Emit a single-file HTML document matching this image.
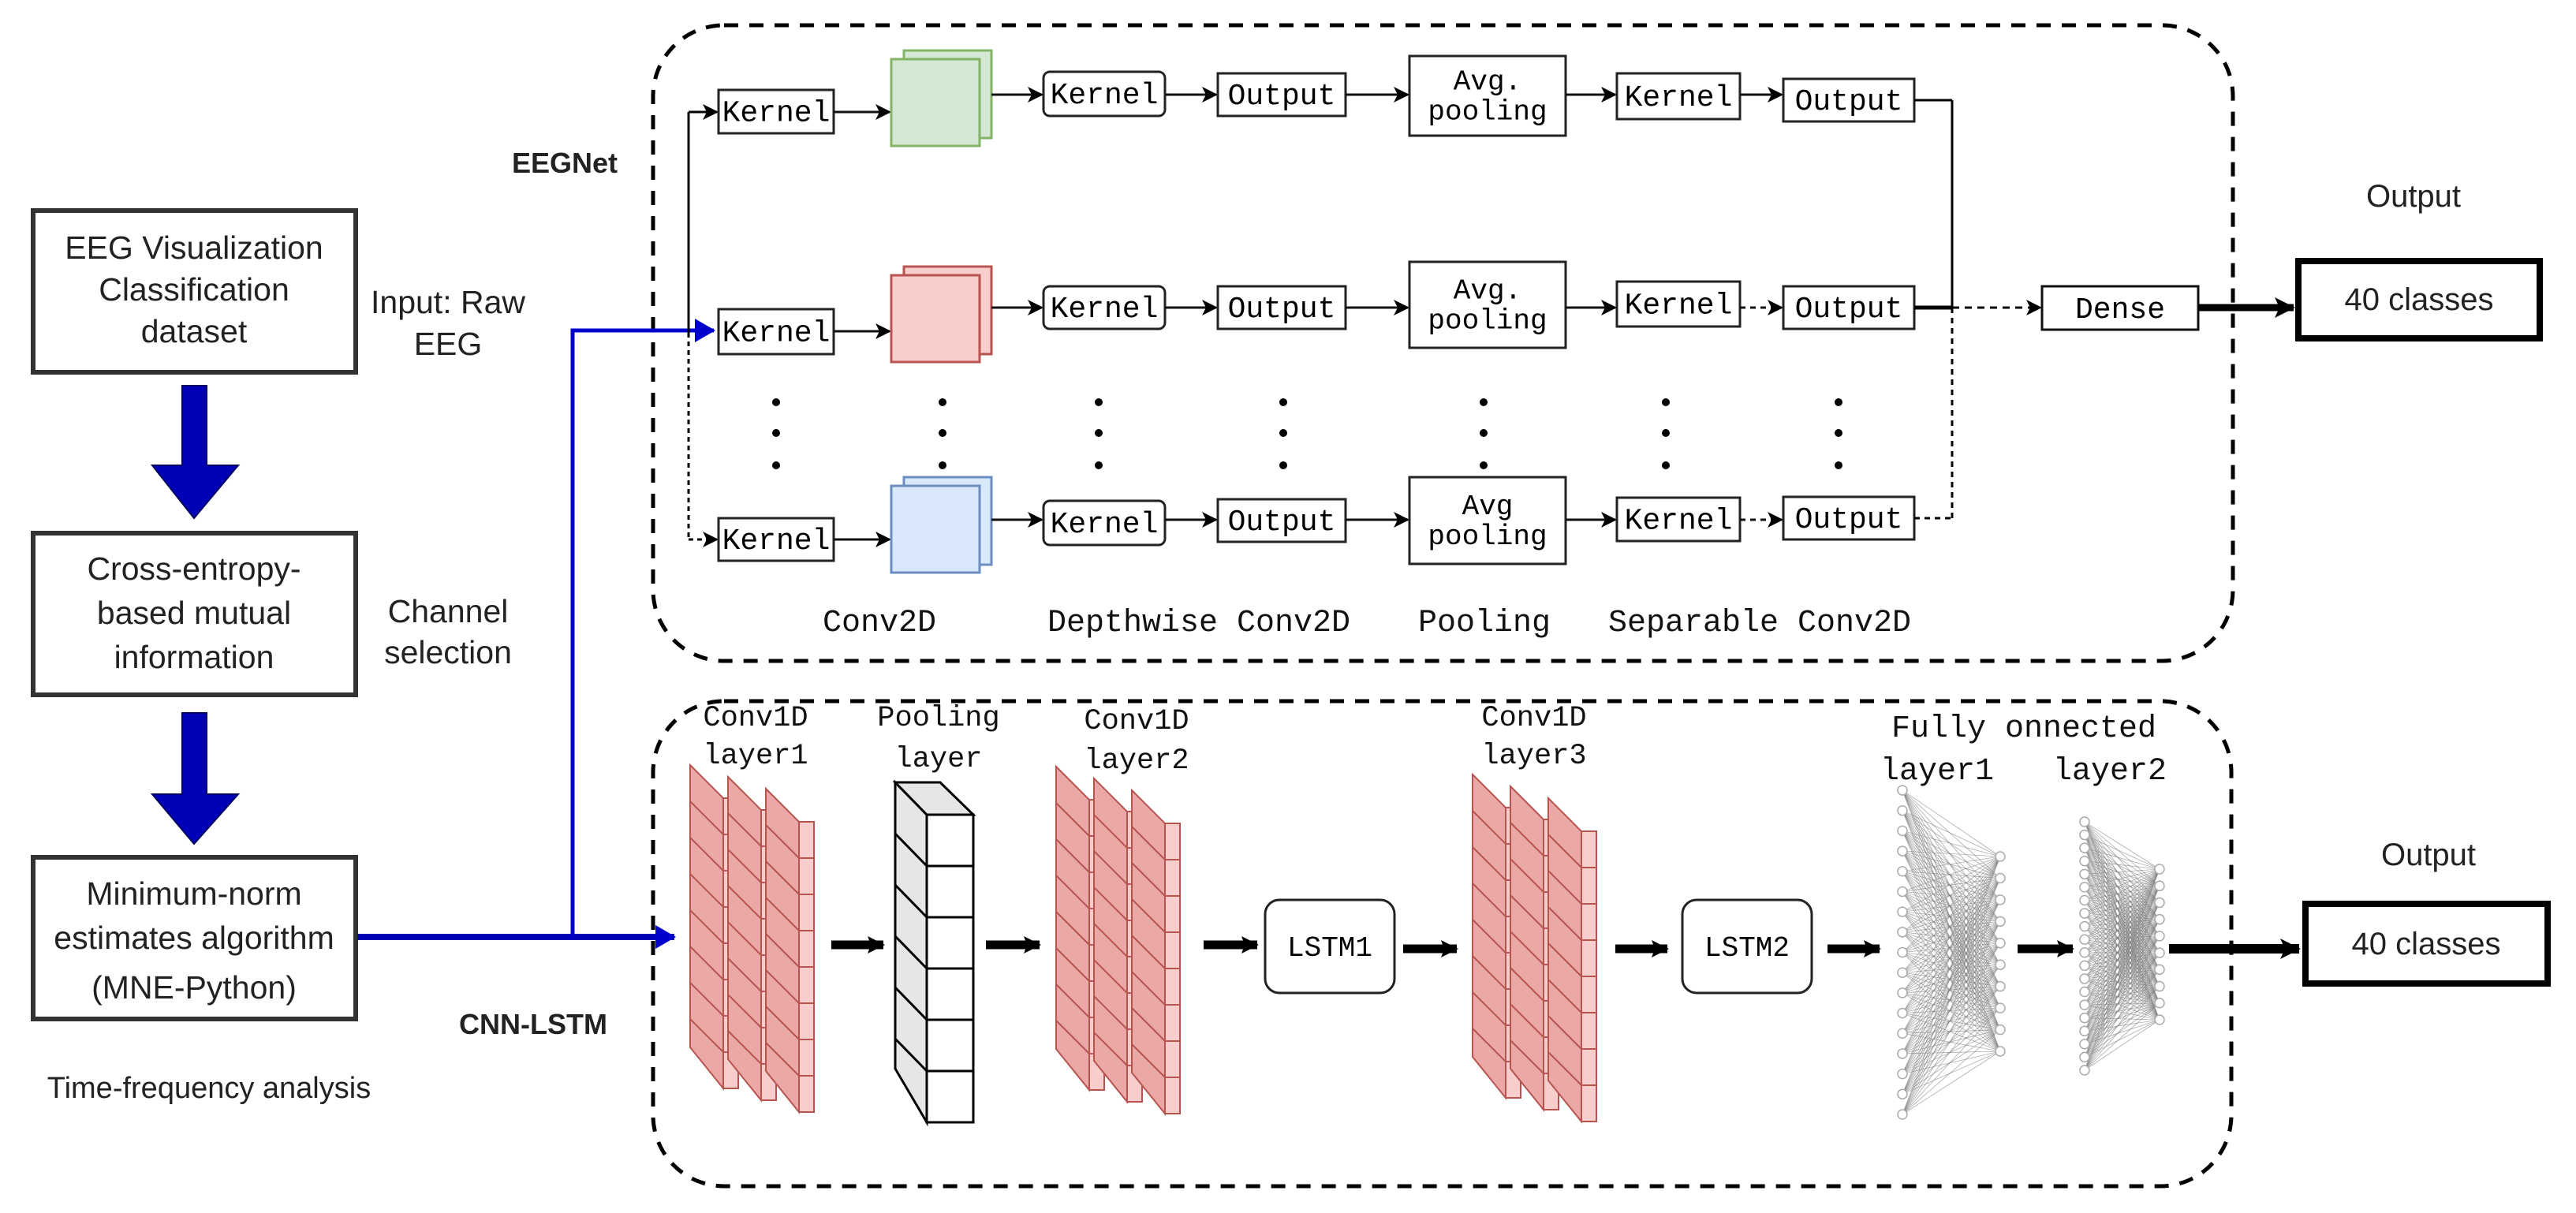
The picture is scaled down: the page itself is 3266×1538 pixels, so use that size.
<!DOCTYPE html>
<html><head><meta charset="utf-8"><style>
html,body{margin:0;padding:0;background:#fff;}
svg{display:block;}
.s{font-family:"Liberation Sans",Arial,sans-serif;}
.m{font-family:"Courier New","Liberation Mono",monospace;}
</style></head><body>
<svg id="g" width="3266" height="1538" viewBox="0 0 3266 1538" xmlns="http://www.w3.org/2000/svg">
<defs>
<marker id="ah" markerWidth="20" markerHeight="20" refX="18" refY="10" orient="auto" markerUnits="userSpaceOnUse"><path d="M0,0 L20,10 L0,20 L5,10 Z" fill="#000"/></marker>
<marker id="ahb" markerWidth="26" markerHeight="26" refX="24" refY="13" orient="auto" markerUnits="userSpaceOnUse"><path d="M0,0 L26,13 L0,26 L6,13 Z" fill="#000"/></marker>
<marker id="ahs" markerWidth="22" markerHeight="22" refX="20" refY="11" orient="auto" markerUnits="userSpaceOnUse"><path d="M0,0 L22,11 L0,22 L4,11 Z" fill="#000"/></marker>
<marker id="blue" markerWidth="26" markerHeight="30" refX="24" refY="15" orient="auto" markerUnits="userSpaceOnUse"><path d="M0,0 L26,15 L0,30 Z" fill="#0000cc"/></marker>
</defs>

<rect x="828" y="32" width="2003" height="806" rx="90" ry="90" fill="none" stroke="#000" stroke-width="5" stroke-dasharray="18,14"/>
<rect x="828" y="889" width="2001" height="615" rx="90" ry="90" fill="none" stroke="#000" stroke-width="5" stroke-dasharray="18,14"/>

<g class="s" font-size="41" text-anchor="middle" fill="#222">
<rect x="42" y="267" width="409" height="205" fill="#fff" stroke="#333" stroke-width="6"/>
<text x="246" y="328">EEG Visualization</text><text x="246" y="381">Classification</text><text x="246" y="434">dataset</text>
<rect x="42" y="676" width="409" height="205" fill="#fff" stroke="#333" stroke-width="6"/>
<text x="246" y="735">Cross-entropy-</text><text x="246" y="791">based mutual</text><text x="246" y="847">information</text>
<rect x="42" y="1087" width="409" height="205" fill="#fff" stroke="#333" stroke-width="6"/>
<text x="246" y="1147">Minimum-norm</text><text x="246" y="1203">estimates algorithm</text><text x="246" y="1266">(MNE-Python)</text>
<text x="568" y="397">Input: Raw</text><text x="568" y="450">EEG</text>
<text x="568" y="789">Channel</text><text x="568" y="841">selection</text>
<text x="265" y="1392" font-size="38">Time-frequency analysis</text>
<text x="716" y="219" font-weight="bold" font-size="36">EEGNet</text>
<text x="676" y="1311" font-weight="bold" font-size="36">CNN-LSTM</text>
</g>
<path d="M231,489 H262 V590 H302 L246,657 L193,590 H231 Z" fill="#0000b8" stroke="#000060" stroke-width="2"/>
<path d="M231,904 H262 V1007 H302 L246,1070 L193,1007 H231 Z" fill="#0000b8" stroke="#000060" stroke-width="2"/>

<line x1="453" y1="1188" x2="855" y2="1188" stroke="#0000b8" stroke-width="8" marker-end="url(#blue)"/>
<polyline points="726,1188 726,419 905,419" fill="none" stroke="#0000cc" stroke-width="5" marker-end="url(#blue)"/>

<g stroke="#000" stroke-width="3" fill="none">
<line x1="873" y1="142" x2="873" y2="422"/>
<line x1="873" y1="422" x2="873" y2="684" stroke-dasharray="6,5"/>
<line x1="873" y1="142" x2="909" y2="142" marker-end="url(#ah)"/>
<line x1="873" y1="684" x2="909" y2="684" stroke-dasharray="6,5" marker-end="url(#ah)"/>
</g>
<g id="eeg"></g>
<g class="m" font-size="40" text-anchor="middle" fill="#111">
<text x="1115" y="800">Conv2D</text>
<text x="1520" y="800">Depthwise Conv2D</text>
<text x="1882" y="800">Pooling</text>
<text x="2231" y="800">Separable Conv2D</text>
</g>
<g stroke="#000" stroke-width="3" fill="none">
<line x1="2475" y1="127" x2="2475" y2="390"/>
<line x1="2475" y1="390" x2="2475" y2="657" stroke-dasharray="7,6"/>
<line x1="2427" y1="657" x2="2475" y2="657" stroke-dasharray="7,6"/>
<line x1="2427" y1="127" x2="2475" y2="127"/>
<line x1="2427" y1="390" x2="2475" y2="390" stroke-width="5"/>
<line x1="2475" y1="390" x2="2587" y2="390" stroke-dasharray="9,7" marker-end="url(#ah)"/>
</g>
<rect x="2589" y="363" width="198" height="55" fill="#fff" stroke="#111" stroke-width="3"/>
<text class="m" x="2688" y="403" font-size="38" text-anchor="middle">Dense</text>
<line x1="2787" y1="390" x2="2908" y2="390" stroke="#000" stroke-width="9" marker-end="url(#ahb)"/>
<rect x="2914" y="331" width="306" height="98" fill="#fff" stroke="#000" stroke-width="8"/>
<g class="s" font-size="40" text-anchor="middle" fill="#222">
<text x="3067" y="393">40 classes</text>
<text x="3060" y="262">Output</text>
<text x="3079" y="1097">Output</text>
</g>

<g class="m" font-size="37" text-anchor="middle" fill="#111">
<text x="958" y="920">Conv1D</text><text x="958" y="968">layer1</text>
<text x="1190" y="920">Pooling</text><text x="1190" y="972">layer</text>
<text x="1441" y="924">Conv1D</text><text x="1441" y="974">layer2</text>
<text x="1945" y="920">Conv1D</text><text x="1945" y="968">layer3</text>
<text x="2566" y="934" font-size="40">Fully onnected</text>
<text x="2456" y="988" font-size="40">layer1</text>
<text x="2675" y="988" font-size="40">layer2</text>
</g>
<g id="cnn"></g>
<g stroke="#000" stroke-width="3">
<polygon points="1135,992 1175,1033 1175,1423 1135,1355" fill="#e6e6e6"/>
<polygon points="1135,992 1192,992 1234,1033 1175,1033" fill="#e6e6e6"/>
<rect x="1175" y="1033" width="59" height="390" fill="#fff"/>
<line x1="1175" y1="1098" x2="1234" y2="1098"/><line x1="1175" y1="1163" x2="1234" y2="1163"/>
<line x1="1175" y1="1228" x2="1234" y2="1228"/><line x1="1175" y1="1293" x2="1234" y2="1293"/>
<line x1="1175" y1="1358" x2="1234" y2="1358"/>
<line x1="1135" y1="1057" x2="1175" y2="1098"/><line x1="1135" y1="1122" x2="1175" y2="1163"/>
<line x1="1135" y1="1187" x2="1175" y2="1228"/><line x1="1135" y1="1252" x2="1175" y2="1293"/>
<line x1="1135" y1="1317" x2="1175" y2="1358"/>
</g>
<rect x="1604" y="1141" width="164" height="118" rx="18" fill="#fff" stroke="#222" stroke-width="3"/>
<rect x="2133" y="1141" width="164" height="118" rx="18" fill="#fff" stroke="#222" stroke-width="3"/>
<g class="m" font-size="36" text-anchor="middle"><text x="1686" y="1212">LSTM1</text><text x="2215" y="1212">LSTM2</text></g>
<g stroke="#000" stroke-width="11">
<line x1="1054" y1="1198" x2="1120" y2="1198" marker-end="url(#ahs)"/>
<line x1="1250" y1="1198" x2="1318" y2="1198" marker-end="url(#ahs)"/>
<line x1="1526" y1="1198" x2="1594" y2="1198" marker-end="url(#ahs)"/>
<line x1="1779" y1="1203" x2="1847" y2="1203" marker-end="url(#ahs)"/>
<line x1="2048" y1="1203" x2="2114" y2="1203" marker-end="url(#ahs)"/>
<line x1="2317" y1="1203" x2="2383" y2="1203" marker-end="url(#ahs)"/>
<line x1="2558" y1="1203" x2="2628" y2="1203" marker-end="url(#ahs)"/>
</g>
<line x1="2750" y1="1203" x2="2915" y2="1203" stroke="#000" stroke-width="12" marker-end="url(#ahb)"/>
<rect x="2923" y="1146" width="307" height="101" fill="#fff" stroke="#000" stroke-width="8"/>
<text class="s" x="3076" y="1210" font-size="40" text-anchor="middle" fill="#222">40 classes</text>
<g id="nn"></g>
</svg>
<script>
var NS="http://www.w3.org/2000/svg";
function el(p,t,a){var e=document.createElementNS(NS,t);for(var k in a)e.setAttribute(k,a[k]);p.appendChild(e);return e;}
var eeg=document.getElementById("eeg");
var MF="Courier New,Liberation Mono,monospace";
function box(x,y,w,h,txt,r,lines){el(eeg,"rect",{x:x,y:y,width:w,height:h,rx:r||0,fill:"#fff",stroke:"#222","stroke-width":3});
 if(lines){for(var i=0;i<lines.length;i++){var t=el(eeg,"text",{x:x+w/2,y:y+h/2-8+i*38,"font-family":MF,"font-size":36,"text-anchor":"middle"});t.textContent=lines[i];}}
 else{var t=el(eeg,"text",{x:x+w/2,y:y+h/2+12,"font-family":MF,"font-size":38,"text-anchor":"middle"});t.textContent=txt;}}
function arr(x1,y,x2,dash){var a={x1:x1,y1:y,x2:x2,y2:y,stroke:"#111","stroke-width":3,"marker-end":"url(#ah)"};if(dash)a["stroke-dasharray"]="7,6";el(eeg,"line",a);}
var rows=[
 {k1:[114,169],c:142,s:64,fill:"#d5e8d4",st:"#82b366",m:120,k2:[91,147],o1:[93,147],ap:[71,172],k3:[93,151],o3:[100,154],ap2:["Avg.","pooling"],d:false},
 {k1:[392,449],c:420,s:338,fill:"#f8cecc",st:"#b85450",m:390,k2:[363,417],o1:[363,417],ap:[332,441],k3:[357,414],o3:[363,417],ap2:["Avg.","pooling"],d:true},
 {k1:[657,711],c:684,s:605,fill:"#dae8fc",st:"#6c8ebf",m:659,k2:[635,691],o1:[633,687],ap:[605,715],k3:[631,686],o3:[630,684],ap2:["Avg","pooling"],d:true}];
rows.forEach(function(r){
 box(911,r.k1[0],146,r.k1[1]-r.k1[0],"Kernel");
 arr(1057,r.c,1128);
 el(eeg,"rect",{x:1146,y:r.s,width:111,height:111,fill:r.fill,stroke:r.st,"stroke-width":3});
 el(eeg,"rect",{x:1130,y:r.s+11,width:112,height:110,fill:r.fill,stroke:r.st,"stroke-width":3});
 arr(1257,r.m,1321);
 box(1323,r.k2[0],154,r.k2[1]-r.k2[0],"Kernel",8);
 arr(1477,r.m,1542);
 box(1544,r.o1[0],162,r.o1[1]-r.o1[0],"Output");
 arr(1706,r.m,1785);
 box(1787,r.ap[0],198,r.ap[1]-r.ap[0],null,0,r.ap2);
 arr(1985,r.m,2048);
 box(2050,r.k3[0],156,r.k3[1]-r.k3[0],"Kernel");
 arr(2206,r.m,2259,r.d);
 box(2261,r.o3[0],166,r.o3[1]-r.o3[0],"Output");
});
[984,1195,1393,1627,1881,2112,2331].forEach(function(x){[510,549,590].forEach(function(y){el(eeg,"circle",{cx:x,cy:y,r:5,fill:"#000"});});});
var cnn=document.getElementById("cnn");
function slab(x,y,h){var fr=x+42,fy=y+42,fh=h-42;
 el(cnn,"polygon",{points:x+","+y+" "+fr+","+fy+" "+fr+","+(fy+fh)+" "+x+","+(y+fh-10),fill:"#eaa9a6",stroke:"#b85450","stroke-width":2});
 el(cnn,"rect",{x:fr,y:fy,width:19,height:fh,fill:"#f8cecc",stroke:"#b85450","stroke-width":2});
 for(var i=1;i<8;i++){var yy=fy+fh*i/8;el(cnn,"line",{x1:fr,y1:yy,x2:fr+19,y2:yy,stroke:"#b85450","stroke-width":2});
  el(cnn,"line",{x1:x,y1:yy-42,x2:fr,y2:yy,stroke:"#b85450","stroke-width":2});}}
[[875,970],[1339,972],[1867,982]].forEach(function(p){for(var j=0;j<3;j++)slab(p[0]+j*48,p[1]+j*15,410);});
var nn=document.getElementById("nn");
function layer(x1,y1a,y1b,n1,x2,y2a,y2b,n2){var A=[],B=[];
 for(var i=0;i<n1;i++)A.push(y1a+(y1b-y1a)*i/(n1-1));for(var j=0;j<n2;j++)B.push(y2a+(y2b-y2a)*j/(n2-1));
 A.forEach(function(a){B.forEach(function(b){el(nn,"line",{x1:x1,y1:a,x2:x2,y2:b,stroke:"#777","stroke-width":0.8,"stroke-opacity":0.6});});});
 A.forEach(function(a){el(nn,"circle",{cx:x1,cy:a,r:6,fill:"#fff",stroke:"#aaa","stroke-width":1.5});});
 B.forEach(function(b){el(nn,"circle",{cx:x2,cy:b,r:6,fill:"#fff",stroke:"#aaa","stroke-width":1.5});});}
layer(2412,1002,1413,17,2536,1086,1333,10);
layer(2643,1042,1357,20,2738,1102,1293,10);
</script>
</body></html>
